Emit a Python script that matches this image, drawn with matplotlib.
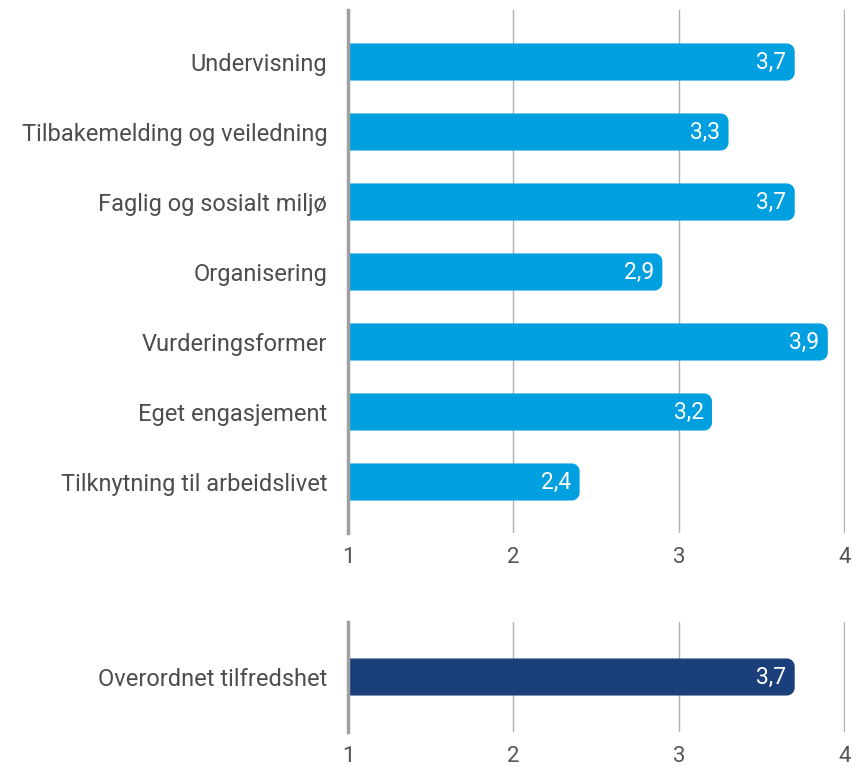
import matplotlib
matplotlib.use("Agg")
import numpy as np
import matplotlib.pyplot as plt
from matplotlib.patches import Polygon

plt.rcParams['font.family'] = ['Roboto', 'DejaVu Sans']

# data
categories = ['Undervisning', 'Tilbakemelding og veiledning', 'Faglig og sosialt miljø',
              'Organisering', 'Vurderingsformer', 'Eget engasjement',
              'Tilknytning til arbeidslivet']
scores = [3.7, 3.3, 3.7, 2.9, 3.9, 3.2, 2.4]
overall_label = ['Overordnet tilfredshet']
overall_score = [3.7]
xticks = [1, 2, 3, 4]

light_blue = '#009fe0'
dark_blue = '#1b3f7a'
label_col = '#4d4d4d'
grid_col = '#b0b0b0'
spine_col = '#a0a0a0'

W, H = 856, 767
fig = plt.figure(figsize=(W / 100, H / 100), dpi=100)

def px_ax(x0, y0, x1, y1):
    return fig.add_axes([x0 / W, 1 - y1 / H, (x1 - x0) / W, (y1 - y0) / H])

ax1 = px_ax(348, 10, 845, 533)
ax2 = px_ax(348, 622, 845, 732)

bar_h = 0.53
rx = 8 / 166.0   # corner radius in x units (~8px)
ry = 8 / 70.0    # corner radius in y units


def rounded_right(x0, y0, w, h):
    # rectangle with square left side, rounded right corners
    x1, y1 = x0 + w, y0 + h
    t = np.linspace(0, np.pi / 2, 12)
    pts = [(x0, y0)]
    cx, cy = x1 - rx, y0 + ry
    pts += [(cx + rx * np.sin(a), cy - ry * np.cos(a)) for a in t]
    cx, cy = x1 - rx, y1 - ry
    pts += [(cx + rx * np.cos(a), cy + ry * np.sin(a)) for a in t]
    pts.append((x0, y1))
    return pts


def draw(ax, labels, vals, color, ylo, yhi):
    ypos = list(range(len(vals)))
    bars = ax.barh(ypos, [v - 1 for v in vals], left=1, height=bar_h, color=color)
    for b, v in zip(bars, vals):
        x0, y0 = b.get_x(), b.get_y()
        w, h = b.get_width(), b.get_height()
        b.set_visible(False)
        ax.add_patch(Polygon(rounded_right(x0, y0, w, h), closed=True,
                             fc=color, ec='none', zorder=3))
        ax.text(v - 0.05, y0 + h / 2, f"{v:.1f}".replace('.', ','), color='white',
                ha='right', va='center', fontsize=16.5, zorder=4)
    ax.set_yticks(ypos)
    ax.set_yticklabels(labels, fontsize=17, color=label_col)
    ax.set_ylim(yhi, ylo)
    ax.set_xlim(1, 4.004)
    ax.set_xticks(xticks)
    ax.set_xticklabels([str(t) for t in xticks], fontsize=16, color='#555555')
    ax.tick_params(length=0)
    ax.tick_params(axis='y', pad=15)
    ax.tick_params(axis='x', pad=10)
    for s in ['top', 'right', 'bottom']:
        ax.spines[s].set_visible(False)
    ax.spines['left'].set_color(spine_col)
    ax.spines['left'].set_linewidth(2.5)
    ax.spines['left'].set_zorder(5)
    for t in xticks[1:]:
        ax.axvline(t, color=grid_col, lw=1, zorder=1)


draw(ax1, categories, scores, light_blue, -0.743, 6.729)
draw(ax2, overall_label, overall_score, dark_blue, -0.786, 0.786)

fig.savefig('out.png', dpi=100, facecolor='white')
